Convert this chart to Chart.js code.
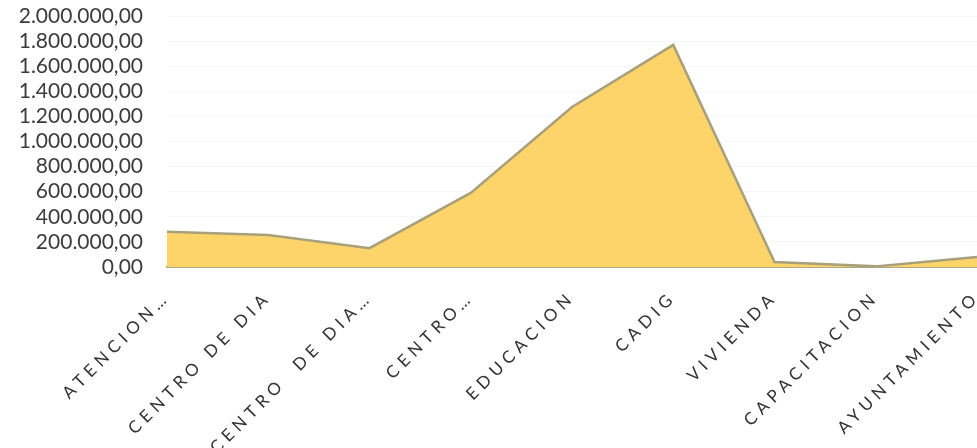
<!DOCTYPE html>
<html>
<head>
<meta charset="utf-8">
<script src="https://cdn.jsdelivr.net/npm/chart.js@4"></script>
<style>
  html, body { margin: 0; padding: 0; background: #fff; }
  #wrap { width: 977px; height: 448px; }
</style>
</head>
<body>
<div id="wrap"><canvas id="chart"></canvas></div>
<script>
// Data
const categories = [
    'ATENCION…',
    'CENTRO DE DIA',
    'CENTRO  DE DIA…',
    'CENTRO…',
    'EDUCACION',
    'CADIG',
    'VIVIENDA',
    'CAPACITACION',
    'AYUNTAMIENTO'
];
const amounts = [280000, 255000, 150000, 590000, 1275000, 1770000, 40000, 5000, 80000];
const yTickValues = [0, 200000, 400000, 600000, 800000, 1000000, 1200000, 1400000, 1600000, 1800000, 2000000];

// Spanish style number: 1.800.000,00
function formatAmount(v) {
    const parts = Number(v).toFixed(2).split('.');
    const intPart = parts[0].replace(/\B(?=(\d{3})+(?!\d))/g, '.');
    return intPart + ',' + parts[1];
}

// Spaced letters on the category labels only (x tick labels are drawn after the datasets)
const letterSpacingPlugin = {
    id: 'letterSpacing',
    beforeDraw(chart) {
        chart.ctx.letterSpacing = '0px';
    },
    afterDatasetsDraw(chart) {
        chart.ctx.letterSpacing = '5px';
    },
    afterDraw(chart) {
        chart.ctx.letterSpacing = '0px';
    }
};

const ctx = document.getElementById('chart');

new Chart(ctx, {
    type: 'line',
    data: {
        labels: categories,
        datasets: [{
            data: amounts,
            fill: 'origin',
            backgroundColor: 'rgb(252, 212, 106)',
            borderColor: 'rgb(168, 160, 122)',
            borderWidth: 2.5,
            pointRadius: 0,
            tension: 0
        }]
    },
    options: {
        responsive: true,
        maintainAspectRatio: false,
        animation: false,
        layout: {
            padding: { top: 16, right: 0, bottom: 0, left: 0 }
        },
        plugins: {
            legend: { display: false },
            tooltip: { enabled: false }
        },
        scales: {
            x: {
                offset: false,
                grid: { display: false },
                border: { display: true, color: 'rgb(175, 168, 135)', width: 2 },
                ticks: {
                    z: 1,
                    color: '#333333',
                    font: { family: 'Lato', size: 17 },
                    minRotation: 45,
                    maxRotation: 45,
                    autoSkip: false,
                    padding: 12
                },
                afterFit(scale) {
                    scale.height = 181;
                    scale.paddingLeft = 0;
                    scale.paddingRight = 0;
                }
            },
            y: {
                min: 0,
                max: 2000000,
                afterBuildTicks(scale) {
                    scale.ticks = yTickValues.map(v => ({ value: v }));
                },
                grid: {
                    color: 'rgba(0, 0, 0, 0.03)',
                    drawTicks: false
                },
                border: { display: false },
                ticks: {
                    autoSkip: false,
                    color: '#3c3c3c',
                    font: { family: 'Lato', size: 21 },
                    padding: 24,
                    callback: (value) => formatAmount(value)
                },
                afterFit(scale) {
                    scale.width = 167;
                    scale.paddingTop = 0;
                    scale.paddingBottom = 0;
                }
            }
        }
    },
    plugins: [letterSpacingPlugin]
});
</script>
</body>
</html>
